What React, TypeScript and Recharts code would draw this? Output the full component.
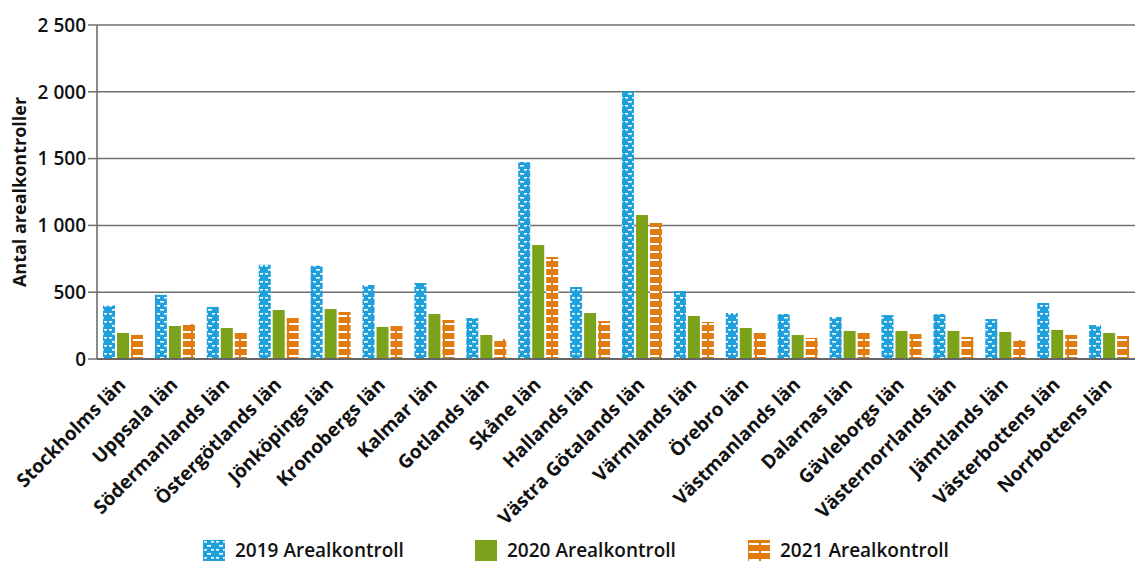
import React from "react";
import {
  BarChart,
  Bar,
  XAxis,
  YAxis,
  CartesianGrid,
  Legend,
} from "recharts";

const counties = [
  "Stockholms län",
  "Uppsala län",
  "Södermanlands län",
  "Östergötlands län",
  "Jönköpings län",
  "Kronobergs län",
  "Kalmar län",
  "Gotlands län",
  "Skåne län",
  "Hallands län",
  "Västra Götalands län",
  "Värmlands län",
  "Örebro län",
  "Västmanlands län",
  "Dalarnas län",
  "Gävleborgs län",
  "Västernorrlands län",
  "Jämtlands län",
  "Västerbottens län",
  "Norrbottens län",
];

const values2019 = [400, 480, 390, 705, 698, 554, 569, 307, 1475, 539, 2005, 509, 344, 337, 314, 329, 337, 299, 419, 254];
const values2020 = [195, 247, 232, 367, 374, 240, 337, 180, 853, 344, 1078, 322, 232, 180, 210, 210, 210, 202, 217, 195];
const values2021 = [180, 262, 195, 307, 352, 247, 292, 150, 763, 284, 1018, 277, 195, 157, 195, 187, 165, 142, 180, 172];

const yTicks = [0, 500, 1000, 1500, 2000, 2500];

const seriesNames = ["2019 Arealkontroll", "2020 Arealkontroll", "2021 Arealkontroll"];

const data = counties.map((name, i) => ({
  name,
  a2019: values2019[i],
  a2020: values2020[i],
  a2021: values2021[i],
}));

const FONT = "'Open Sans', 'DejaVu Sans', sans-serif";
const BLUE = "#1ea0dc";
const GREEN = "#7ca11a";
const ORANGE = "#e07b10";

const fills = ["url(#pat2019)", GREEN, "url(#pat2021)"];

function fmt(v: number) {
  return v >= 1000 ? `${Math.floor(v / 1000)} ${String(v % 1000).padStart(3, "0")}` : String(v);
}

function XTick(props: any) {
  const { x, y, payload } = props;
  const ax = x + 4;
  const ay = y + 19;
  return (
    <text
      x={ax}
      y={ay}
      transform={`rotate(-45, ${ax}, ${ay})`}
      textAnchor="end"
      fontFamily={FONT}
      fontWeight={700}
      fontSize={19}
      fill="#111"
    >
      {payload.value}
    </text>
  );
}

function renderLegend() {
  const xs = [203, 475, 748];
  return (
    <div style={{ position: "relative", width: 1135, height: 35 }}>
      {seriesNames.map((n, i) => (
        <div
          key={n}
          style={{
            position: "absolute",
            left: xs[i],
            top: 11,
            display: "flex",
            alignItems: "center",
            whiteSpace: "nowrap",
            fontFamily: FONT,
            fontWeight: 600,
            fontSize: 19,
            lineHeight: "21px",
            color: "#111",
          }}
        >
          <svg width={22} height={21} style={{ marginRight: 10, flexShrink: 0 }}>
            <rect x={0} y={0} width={22} height={21} fill={fills[i]} />
          </svg>
          {n}
        </div>
      ))}
    </div>
  );
}

export default function App() {
  return (
    <div style={{ position: "absolute", left: 0, top: 0, width: 1135, height: 564, background: "#fff", overflow: "hidden" }}>
      <BarChart
        width={1135}
        height={564}
        data={data}
        margin={{ top: 25, right: 0, left: 0, bottom: 0 }}
        barCategoryGap={7}
        barGap={2}
      >
        <defs>
          <pattern id="pat2019" patternUnits="userSpaceOnUse" width={12} height={8}>
            <rect x={0} y={0} width={12} height={8} fill={BLUE} />
            <rect x={1} y={1} width={3} height={1.6} fill="#fff" />
            <rect x={8} y={1} width={3} height={1.6} fill="#fff" />
            <rect x={4} y={5} width={4} height={1.6} fill="#fff" />
          </pattern>
          <pattern id="pat2021" patternUnits="userSpaceOnUse" width={12} height={8}>
            <rect x={0} y={0} width={12} height={8} fill={ORANGE} />
            <rect x={1} y={3} width={10} height={2} fill="#fff" />
          </pattern>
        </defs>
        <CartesianGrid horizontal vertical={false} stroke="#707070" strokeWidth={1.5} />
        <XAxis
          dataKey="name"
          interval={0}
          height={170}
          tick={<XTick />}
          tickLine={false}
          axisLine={{ stroke: "#666", strokeWidth: 2 }}
        />
        <YAxis
          width={97}
          domain={[0, 2500]}
          ticks={yTicks}
          tickFormatter={fmt}
          tickSize={9}
          tickLine={{ stroke: "#707070", strokeWidth: 1.5 }}
          axisLine={{ stroke: "#666", strokeWidth: 1.5 }}
          tick={{ fontFamily: FONT, fontWeight: 600, fontSize: 19, fill: "#111" }}
          label={{
            value: "Antal arealkontroller",
            angle: -90,
            position: "insideLeft",
            offset: 20,
            style: { fontFamily: FONT, fontWeight: 700, fontSize: 18, fill: "#111", textAnchor: "middle" },
          }}
        />
        <Legend verticalAlign="bottom" content={renderLegend} wrapperStyle={{ height: 35 }} />
        <Bar dataKey="a2019" name={seriesNames[0]} fill="url(#pat2019)" barSize={12} isAnimationActive={false} />
        <Bar dataKey="a2020" name={seriesNames[1]} fill={GREEN} barSize={12} isAnimationActive={false} />
        <Bar dataKey="a2021" name={seriesNames[2]} fill="url(#pat2021)" barSize={12} isAnimationActive={false} />
      </BarChart>
    </div>
  );
}
